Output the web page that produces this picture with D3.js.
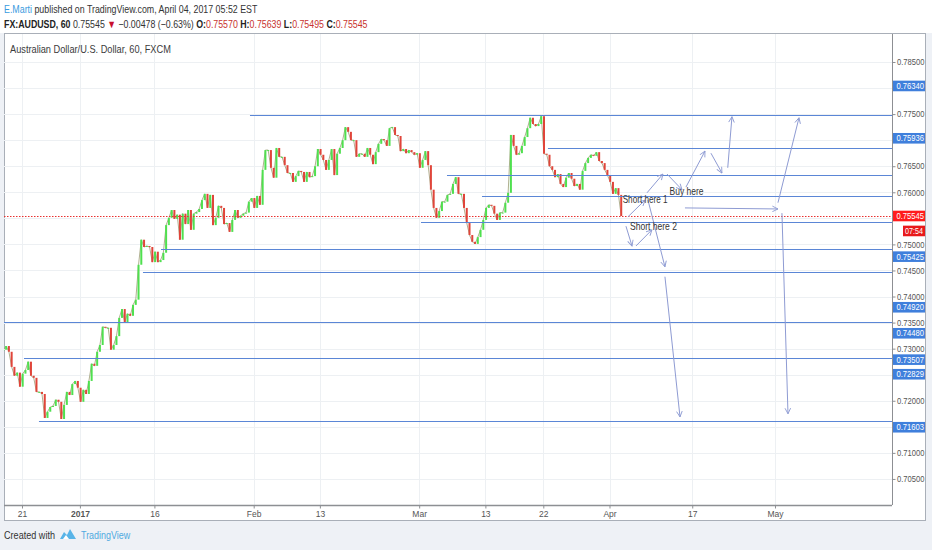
<!DOCTYPE html>
<html>
<head>
<meta charset="utf-8">
<script src="https://cdn.jsdelivr.net/npm/d3@7"></script>
<style>
  body { margin: 0; background: #eef1f6; }
  svg { display: block; font-family: "Liberation Sans", Arial, sans-serif; }
</style>
</head>
<body>
<svg id="chart" width="932" height="550"></svg>
<script>
// x is counted in trading days from Dec 21 2016 (weekends and holidays skipped)
var startDay = -2.25;
var barsPerDay = 3; // 8 hour bars

// AUDUSD closes, one per 8 hours
var closes = [
  0.7298,0.7305,0.7294,0.7265,0.7248,0.7254,0.7227,0.7252,0.7259,0.7275,
  0.7248,0.7244,0.7217,0.7217,0.7213,0.7167,0.7179,0.7188,0.7190,0.7202,
  0.7198,0.7165,0.7192,0.7217,0.7211,0.7232,0.7238,0.7225,0.7198,0.7221,
  0.7213,0.7238,0.7271,0.7267,0.7294,0.7307,0.7342,0.7340,0.7340,0.7298,
  0.7307,0.7324,0.7359,0.7376,0.7351,0.7367,0.7363,0.7384,0.7394,0.7461,
  0.7509,0.7495,0.7497,0.7495,0.7466,0.7486,0.7466,0.7470,0.7484,0.7537,
  0.7551,0.7566,0.7549,0.7557,0.7509,0.7559,0.7539,0.7566,0.7528,0.7559,
  0.7562,0.7568,0.7585,0.7597,0.7570,0.7595,0.7537,0.7551,0.7574,0.7570,
  0.7539,0.7541,0.7524,0.7547,0.7566,0.7551,0.7555,0.7559,0.7561,0.7582,
  0.7589,0.7570,0.7593,0.7576,0.7643,0.7681,0.7681,0.7647,0.7628,0.7685,
  0.7668,0.7668,0.7652,0.7637,0.7637,0.7620,0.7631,0.7641,0.7639,0.7620,
  0.7639,0.7629,0.7631,0.7650,0.7683,0.7672,0.7662,0.7643,0.7662,0.7683,
  0.7633,0.7674,0.7685,0.7700,0.7725,0.7716,0.7700,0.7700,0.7668,0.7674,
  0.7674,0.7668,0.7685,0.7672,0.7654,0.7677,0.7693,0.7702,0.7700,0.7689,
  0.7723,0.7725,0.7710,0.7708,0.7679,0.7683,0.7675,0.7681,0.7677,0.7672,
  0.7675,0.7647,0.7662,0.7679,0.7652,0.7605,0.7570,0.7551,0.7564,0.7582,
  0.7582,0.7595,0.7597,0.7616,0.7629,0.7597,0.7597,0.7570,0.7541,0.7518,
  0.7505,0.7501,0.7514,0.7528,0.7547,0.7570,0.7576,0.7574,0.7559,0.7547,
  0.7561,0.7561,0.7580,0.7599,0.7710,0.7689,0.7672,0.7675,0.7689,0.7706,
  0.7723,0.7743,0.7731,0.7727,0.7731,0.7746,0.7674,0.7672,0.7650,0.7643,
  0.7629,0.7635,0.7616,0.7610,0.7628,0.7637,0.7626,0.7612,0.7616,0.7605,
  0.7641,0.7656,0.7666,0.7672,0.7670,0.7677,0.7660,0.7656,0.7643,0.7633,
  0.7620,0.7597,0.7608,0.7595,0.75545
];

var xTicks = [0, 7, 16, 28, 36, 48, 56, 63, 71, 81, 91];
var xTickLabels = ["21", "2017", "16", "Feb", "13", "Mar", "13", "22", "Apr", "17", "May"];
var yTicks = [0.705,0.710,0.715,0.720,0.725,0.730,0.735,0.740,0.745,0.750,
              0.755,0.760,0.765,0.770,0.775,0.780,0.785];

// horizontal support / resistance lines
var levelPrices = [0.7749, 0.7685, 0.76340, 0.75936, 0.75425, 0.74920, 0.74480, 0.73507, 0.72829, 0.71603];
var levelStart  = [27.55, 63.56, 51.36, 55.59, 48.22, 16.80, 14.62, -2.2, 0.24, 2.05];

// price tags on the axis (text and the axis slot where TradingView put them)
var tagText = ["0.76340", "0.75936", "0.75425", "0.74920", "0.74480", "0.73507", "0.72829", "0.71603"];
var tagSlot = [0.78040, 0.77036, 0.74765, 0.73794, 0.73295, 0.72789, 0.72509, 0.71492];

var lastPrice = 0.75545;
var countdown = "07:54";
var countdownSlot = 0.75258;

// drawn arrows [day, price]
var arrowFrom = [[73.23,0.7553],[75.53,0.7599],[77.95,0.7635],[80.24,0.7610],[83.26,0.7675],
                 [85.29,0.7647],[80.12,0.7570],[91.36,0.7580],[91.84,0.7560],[72.99,0.7535],
                 [74.20,0.7497],[75.65,0.7585],[77.70,0.7438]];
var arrowTo   = [[75.29,0.7585],[77.46,0.7635],[79.76,0.7605],[82.54,0.7679],[84.59,0.7637],
                 [85.80,0.7745],[91.36,0.7568],[93.90,0.7743],[92.57,0.7175],[73.72,0.7497],
                 [76.13,0.7528],[77.70,0.7457],[79.52,0.7169]];

var noteText  = ["Short here 1", "Buy here", "Short here 2"];
var noteDay   = [72.59, 78.25, 73.47];
var notePrice = [0.7587, 0.7602, 0.7535];
var noteWidth = [45, 34, 47];

var svg = d3.select("#chart");
var plot = {left: 4, top: 34, right: 892, bottom: 505};

var x = d3.scaleLinear().domain([-2.175, 105.14]).range([plot.left, plot.right]);
var y = d3.scaleLinear().domain([0.70, 0.79037]).range([plot.bottom, plot.top]);

// squeeze a text group horizontally to the width it has in the screenshot
function fitGroup(g, tx, ty, width) {
  var w = g.node().getBBox().width;
  g.attr("transform", `translate(${tx}, ${ty}) scale(${width / w}, 1)`);
}

// page background, header strip and panel
svg.append("rect").attr("width", 932).attr("height", 550).attr("fill", "#eef1f6");
svg.append("rect").attr("width", 932).attr("height", 33).attr("fill", "#ffffff");
svg.append("rect")
  .attr("x", 4.5).attr("y", 33.5).attr("width", 921).attr("height", 487)
  .attr("fill", "#ffffff").attr("stroke", "#a9afb8");

var defs = svg.append("defs");
defs.append("clipPath").attr("id", "clip")
  .append("rect")
  .attr("x", plot.left).attr("y", plot.top)
  .attr("width", plot.right - plot.left).attr("height", plot.bottom - plot.top);

var arrowColor = "#8e9bd3";
defs.append("marker").attr("id", "head")
  .attr("viewBox", "0 0 10 10").attr("refX", 9).attr("refY", 5)
  .attr("markerWidth", 7).attr("markerHeight", 7)
  .attr("markerUnits", "userSpaceOnUse").attr("orient", "auto")
  .append("path").attr("d", "M1,1 L9,5 L1,9")
  .attr("fill", "none").attr("stroke", arrowColor).attr("stroke-width", 1.3);

var chartGroup = svg.append("g").attr("clip-path", "url(#clip)");

// grid
chartGroup.selectAll(".hgrid").data(yTicks).enter().append("line")
  .attr("x1", plot.left).attr("x2", plot.right)
  .attr("y1", d => Math.round(y(d)) + 0.5).attr("y2", d => Math.round(y(d)) + 0.5)
  .attr("stroke", "#edf0f3");
chartGroup.selectAll(".vgrid").data(xTicks).enter().append("line")
  .attr("y1", plot.top).attr("y2", plot.bottom)
  .attr("x1", d => Math.round(x(d)) + 0.5).attr("x2", d => Math.round(x(d)) + 0.5)
  .attr("stroke", "#edf0f3");

// candles
var bars = closes.map((c, i) => ({
  day: startDay + i / barsPerDay,
  open: i ? closes[i - 1] : c,
  close: c
}));

chartGroup.append("path")
  .datum(bars)
  .attr("d", d3.line().x(d => x(d.day)).y(d => y(d.close)))
  .attr("fill", "none").attr("stroke", "#9c9c74").attr("stroke-width", 0.8);

chartGroup.selectAll(".bar").data(bars).enter().append("rect")
  .attr("x", d => x(d.day) - 1)
  .attr("width", 2)
  .attr("y", d => y(Math.max(d.open, d.close)))
  .attr("height", d => Math.max(1, Math.abs(y(d.open) - y(d.close))))
  .attr("fill", d => d.close >= d.open ? "#4fe04f" : "#e0453a");

// levels
chartGroup.selectAll(".level").data(levelPrices).enter().append("line")
  .attr("x1", (d, i) => x(levelStart[i])).attr("x2", plot.right)
  .attr("y1", d => Math.round(y(d)) + 0.5).attr("y2", d => Math.round(y(d)) + 0.5)
  .attr("stroke", "#5b86d6").attr("stroke-width", 1.1);

// last price line
chartGroup.append("line")
  .attr("x1", plot.left).attr("x2", plot.right)
  .attr("y1", Math.round(y(lastPrice)) + 0.5).attr("y2", Math.round(y(lastPrice)) + 0.5)
  .attr("stroke", "#e8312f").attr("stroke-dasharray", "1.5,1.5");

// arrows
chartGroup.selectAll(".arrow").data(arrowFrom).enter().append("line")
  .attr("x1", d => x(d[0])).attr("y1", d => y(d[1]))
  .attr("x2", (d, i) => x(arrowTo[i][0])).attr("y2", (d, i) => y(arrowTo[i][1]))
  .attr("stroke", arrowColor).attr("stroke-width", 1)
  .attr("marker-end", "url(#head)");

// notes
chartGroup.selectAll(".note").data(noteText).enter().append("text")
  .attr("x", (d, i) => x(noteDay[i])).attr("y", (d, i) => y(notePrice[i]))
  .attr("dy", "0.35em")
  .attr("font-size", 10.5).attr("fill", "#333")
  .attr("textLength", (d, i) => noteWidth[i]).attr("lengthAdjust", "spacingAndGlyphs")
  .text(d => d);

// frame lines
svg.append("line").attr("x1", plot.right + 0.5).attr("x2", plot.right + 0.5)
  .attr("y1", plot.top).attr("y2", plot.bottom).attr("stroke", "#8d8f93");
svg.append("line").attr("x1", plot.left).attr("x2", plot.right)
  .attr("y1", plot.bottom + 0.5).attr("y2", plot.bottom + 0.5)
  .attr("stroke", "#8d8f93").attr("stroke-width", 1.5);

// right axis; labels sitting under a price tag are hidden like in TradingView
var tagPixels = tagSlot.concat([lastPrice]).map(v => y(v));
var rightAxis = d3.axisRight(y).tickValues(yTicks).tickFormat(d3.format(".5f"))
  .tickSize(3).tickPadding(1.5);
var yAxisG = svg.append("g")
  .attr("transform", `translate(${plot.right + 0.5}, 0)`)
  .call(rightAxis);
yAxisG.select(".domain").remove();
yAxisG.selectAll("line").attr("stroke", "#8d8f93");
yAxisG.selectAll("text")
  .attr("font-size", 8.5).attr("fill", "#555").attr("font-family", null)
  .attr("textLength", 27.5).attr("lengthAdjust", "spacingAndGlyphs");
yAxisG.selectAll(".tick")
  .filter(d => tagPixels.some(p => Math.abs(p - y(d)) < 10))
  .select("text").remove();

// bottom axis
var bottomAxis = d3.axisBottom(x).tickValues(xTicks).tickFormat((d, i) => xTickLabels[i])
  .tickSize(3).tickPadding(2.5);
var xAxisG = svg.append("g")
  .attr("transform", `translate(0, ${plot.bottom + 0.5})`)
  .call(bottomAxis);
xAxisG.select(".domain").remove();
xAxisG.selectAll("line").attr("stroke", "#8d8f93");
xAxisG.selectAll("text")
  .attr("font-size", 8.5).attr("fill", "#555").attr("font-family", null)
  .attr("font-weight", (d, i) => xTickLabels[i] === "2017" ? "bold" : null);

// axis tags
var tagG = svg.append("g");
tagText.forEach((t, i) => {
  var cy = y(tagSlot[i]);
  tagG.append("rect").attr("x", 893).attr("y", cy - 5.3).attr("width", 32).attr("height", 10.6)
    .attr("fill", "#3f7fdc");
  tagG.append("text").attr("x", 896.5).attr("y", cy).attr("dy", "0.34em")
    .attr("font-size", 8.5).attr("fill", "#fff")
    .attr("textLength", 27.5).attr("lengthAdjust", "spacingAndGlyphs").text(t);
});
var ly = y(lastPrice);
tagG.append("rect").attr("x", 893).attr("y", ly - 5.3).attr("width", 32).attr("height", 10.6)
  .attr("fill", "#ff1c1c");
tagG.append("text").attr("x", 896.5).attr("y", ly).attr("dy", "0.34em")
  .attr("font-size", 8.5).attr("fill", "#fff")
  .attr("textLength", 27.5).attr("lengthAdjust", "spacingAndGlyphs").text(d3.format(".5f")(lastPrice));
var cdy = y(countdownSlot);
tagG.append("rect").attr("x", 903).attr("y", cdy - 5.3).attr("width", 22).attr("height", 10.6)
  .attr("fill", "#e8191b");
tagG.append("text").attr("x", 914).attr("y", cdy).attr("dy", "0.34em")
  .attr("text-anchor", "middle").attr("font-size", 8.5).attr("fill", "#fff")
  .attr("textLength", 18).attr("lengthAdjust", "spacingAndGlyphs").text(countdown);

// chart title
var titleG = svg.append("g");
titleG.append("text").attr("font-size", 11).attr("fill", "#3b3b3b")
  .text("Australian Dollar/U.S. Dollar, 60, FXCM");
fitGroup(titleG, 10, 53, 161);

// header
var h1G = svg.append("g");
var h1 = h1G.append("text").attr("font-size", 11).attr("fill", "#333");
h1.append("tspan").attr("fill", "#3a9be0").text("E.Marti");
h1.append("tspan").text(" published on TradingView.com, April 04, 2017 05:52 EST");
fitGroup(h1G, 4, 13, 254);

var h2G = svg.append("g");
var h2 = h2G.append("text").attr("font-size", 11).attr("fill", "#333");
h2.append("tspan").attr("font-weight", "bold").attr("fill", "#222").text("FX:AUDUSD, 60");
h2.append("tspan").text(" 0.75545 ");
h2.append("tspan").attr("fill", "#c8102e").text("▼");
h2.append("tspan").text(" −0.00478 (−0.63%) ");
[["O:", "0.75570"], ["H:", "0.75639"], ["L:", "0.75495"], ["C:", "0.75545"]].forEach((p, i) => {
  h2.append("tspan").attr("font-weight", "bold").attr("fill", "#222").text((i ? " " : "") + p[0]);
  h2.append("tspan").attr("fill", "#c8332e").text(p[1]);
});
fitGroup(h2G, 4, 28, 364);

// footer
var f1G = svg.append("g");
f1G.append("text").attr("font-size", 10).attr("fill", "#333").text("Created with");
fitGroup(f1G, 4, 539, 51);
svg.append("path")
  .attr("d", "M60,539 L64,532 L67,535 L70,529 L76,539 Z")
  .attr("fill", "#58b4e8");
svg.append("path")
  .attr("d", "M63,539 L66,535 L69,539 Z")
  .attr("fill", "#ffffff");
var f2G = svg.append("g");
f2G.append("text").attr("font-size", 10).attr("fill", "#4fa9e0").text("TradingView");
fitGroup(f2G, 81, 539, 50);
</script>
</body>
</html>
